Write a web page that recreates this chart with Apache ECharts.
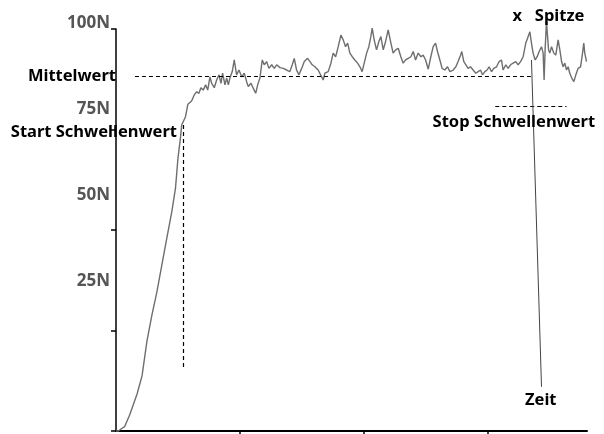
<!DOCTYPE html>
<html>
<head>
<meta charset="utf-8">
<script src="https://cdn.jsdelivr.net/npm/echarts@6/dist/echarts.min.js"></script>
<style>
html,body{margin:0;padding:0;background:#fff;}
#chart{width:604px;height:434px;}
</style>
</head>
<body>
<div id="chart"></div>
<script>
// Time in s (one axis tick per second), force in N
const time = [0,0.02,0.04,0.07,0.11,0.17,0.21,0.25,0.29,0.33,0.37,0.41,0.45,0.48,0.50,0.52,0.53,0.56,0.58,
0.589,0.610,0.631,0.651,0.669,0.685,0.704,0.723,0.740,0.758,0.772,0.793,0.812,0.831,0.847,0.860,0.879,0.893,0.906,0.919,
0.938,0.954,0.973,0.992,1.014,1.035,1.054,1.067,1.089,1.107,1.127,1.143,1.161,1.180,1.196,1.215,1.234,1.256,1.277,1.296,
1.323,1.349,1.377,1.403,1.422,1.438,1.457,1.476,1.498,1.519,1.546,1.565,1.583,1.605,1.631,1.659,1.672,1.685,1.712,1.734,
1.752,1.772,1.793,1.815,1.833,1.852,1.869,1.887,1.906,1.927,1.949,1.968,1.986,2.002,2.022,2.040,2.056,2.067,2.083,2.102,
2.121,2.137,2.156,2.175,2.196,2.218,2.236,2.256,2.277,2.298,2.317,2.336,2.357,2.379,2.398,2.417,2.438,2.460,2.478,2.498,
2.519,2.540,2.559,2.578,2.594,2.613,2.631,2.653,2.675,2.694,2.720,2.742,2.760,2.780,2.790,2.806,2.823,2.841,2.860,2.881,
2.903,2.922,2.941,2.957,2.976,2.994,3.010,3.030,3.048,3.070,3.091,3.110,3.123,3.145,3.164,3.183,3.204,3.226,3.244,3.264,
3.285,3.306,3.325,3.339,3.352,3.365,3.382,3.398,3.414,3.433,3.446,3.454,3.462,3.473,3.490,3.500,3.514,3.532,3.548,3.567,
3.581,3.595,3.607,3.621,3.635,3.648,3.661,3.677,3.694,3.710,3.728,3.748,3.764,3.774,3.782,3.796];
const force = [0,0,0.5,1.1,4.0,9.2,13.7,22.4,28.9,34.6,41.3,48.0,54.5,60.4,67.9,72.9,76.1,78.1,81.3,
81.5,82.1,83.6,84.4,84.0,85.4,84.8,86.1,84.8,88.1,86.5,85.4,87.3,88.6,86.5,89.0,86.1,87.8,86.1,87.8,
89.4,92.3,88.6,89.8,88.1,89.0,86.9,85.7,86.5,85.3,84.0,86.1,87.8,92.3,91.1,91.9,90.2,91.1,90.2,91.1,
90.4,90.2,89.8,89.4,91.1,92.7,89.8,88.6,90.2,91.9,92.7,91.9,91.1,90.6,89.8,88.1,87.3,89.0,89.4,91.5,
94.0,93.1,95.6,98.5,97.3,95.6,96.5,94.0,93.1,92.3,91.5,90.6,89.4,89.8,94.0,95.6,98.1,100.2,97.3,94.8,
96.9,98.1,94.8,96.9,99.8,96.5,94.0,94.8,95.2,93.1,91.5,92.3,92.7,93.1,94.4,92.3,94.0,93.1,93.5,92.3,
90.0,93.1,95.6,96.5,94.4,92.3,90.2,89.8,90.6,89.4,89.8,90.6,91.9,93.5,94.4,91.9,91.1,90.2,90.6,89.8,
89.0,89.4,89.8,88.6,89.4,89.8,90.6,89.4,90.2,90.6,91.9,92.3,89.8,91.1,90.2,91.1,91.5,91.9,91.1,91.9,
93.1,96.5,98.1,99.3,96.5,94.0,92.3,93.1,94.4,95.6,94.0,87.3,94.8,101.8,94.8,94.0,95.6,94.0,93.5,97.3,
94.8,91.9,90.6,91.5,89.8,90.6,89.0,87.8,86.9,88.6,90.2,90.6,94.0,96.5,94.0,91.9];

const yTickValues = [25, 50, 75, 100];
const yTickLabels = ['25N', '50N', '75N', '100N'];
const xTickValues = [1, 2, 3];

// Reference lines (data units)
const mittelwert = 88.3, mittelRange = [0.153, 3.347];
const startT = 0.543, startRange = [76.1, 15.2];
const stopV = 80.7, stopRange = [3.06, 3.635];
const zeitFrom = [3.352, 92.3], zeitTo = [3.433, 11.0];

// Text annotations anchored in data units
const annotations = [
  {text: 'Mittelwert', t: 0, v: mittelwert, align: 'right'},
  {text: 'Start Schwellenwert', t: 0.492, v: 74.4, align: 'right'},
  {text: 'Stop Schwellenwert', t: 3.21, v: 76.75, align: 'center'},
  {text: 'x', t: 3.238, v: 103.25, align: 'center'},
  {text: 'Spitze', t: 3.379, v: 103.25, align: 'left'},
  {text: 'Zeit', t: 3.427, v: 7.7, align: 'center'}
];

const FONT = '"Noto Sans", "DejaVu Sans", sans-serif';
const chart = echarts.init(document.getElementById('chart'), null, {renderer: 'canvas'});
const dashed = {type: [4, 3], color: '#000', width: 1.2};
const zeitStyle = {type: 'solid', color: '#444', width: 1};

chart.setOption({
  animation: false,
  backgroundColor: '#fff',
  grid: [
    {left: 116, top: 29, width: 471, height: 402},
    {left: 116, top: 23, width: 471, height: 344}
  ],
  xAxis: [
    {type: 'value', gridIndex: 0, min: 0, max: 3.8, interval: 1,
      axisLine: {lineStyle: {color: '#000', width: 2}},
      axisTick: {show: true, inside: false, length: 3, customValues: xTickValues, lineStyle: {color: '#000', width: 1.5}},
      axisLabel: {show: false}, splitLine: {show: false}},
    {type: 'value', gridIndex: 1, min: 0, max: 3.8, show: false}
  ],
  yAxis: [
    {type: 'value', gridIndex: 0, min: 0, max: 100, interval: 25,
      axisLine: {show: true, lineStyle: {color: '#000', width: 1.5}},
      axisTick: {show: true, inside: false, length: 5, lineStyle: {color: '#000', width: 1.5}},
      axisLabel: {show: false}, splitLine: {show: false}},
    {type: 'value', gridIndex: 1, min: 0, max: 100, interval: 25,
      axisLine: {show: false}, axisTick: {show: false}, splitLine: {show: false},
      axisLabel: {show: true, margin: 6, customValues: yTickValues,
        formatter: v => yTickLabels[yTickValues.indexOf(v)] || '',
        color: '#555', fontFamily: FONT, fontWeight: 'bold', fontSize: 17}}
  ],
  series: [{
    type: 'line',
    xAxisIndex: 0, yAxisIndex: 0,
    data: time.map((t, i) => [t, force[i]]),
    showSymbol: false,
    clip: false,
    lineStyle: {color: '#6e6e6e', width: 1.4},
    markLine: {
      silent: true,
      symbol: ['none', 'none'],
      label: {show: false},
      lineStyle: dashed,
      data: [
        [{coord: [mittelRange[0], mittelwert]}, {coord: [mittelRange[1], mittelwert]}],
        [{coord: [startT, startRange[0]]}, {coord: [startT, startRange[1]]}],
        [{coord: [stopRange[0], stopV]}, {coord: [stopRange[1], stopV]}],
        [{coord: zeitFrom, lineStyle: zeitStyle}, {coord: zeitTo, lineStyle: zeitStyle}]
      ]
    }
  }]
});

chart.setOption({
  graphic: annotations.map(a => {
    const p = chart.convertToPixel({gridIndex: 0}, [a.t, a.v]);
    return {
      type: 'text', x: p[0], y: p[1], z: 100,
      style: {text: a.text, align: a.align, verticalAlign: 'middle',
        fill: '#000', font: 'bold 16.5px ' + FONT}
    };
  })
});
</script>
</body>
</html>
